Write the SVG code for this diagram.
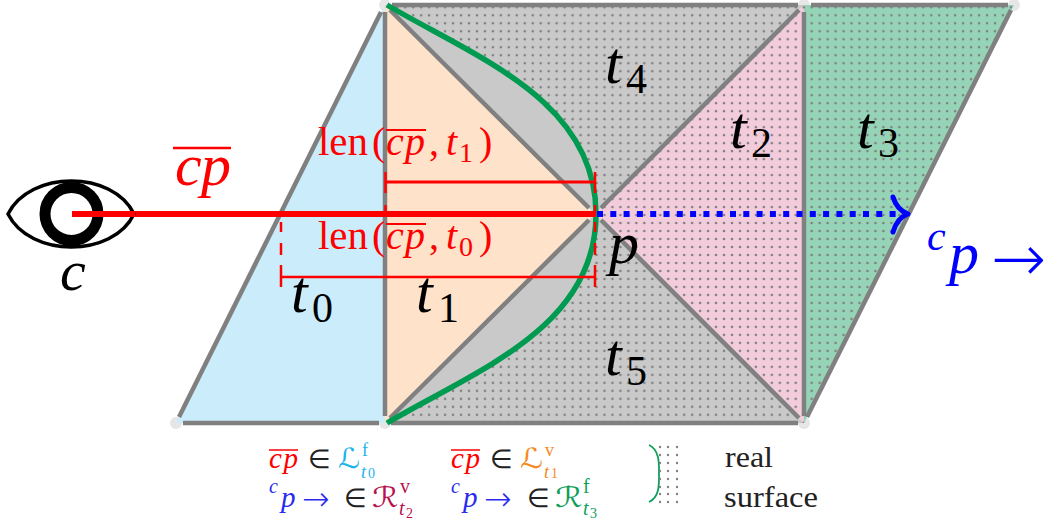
<svg xmlns="http://www.w3.org/2000/svg" width="1050" height="522" viewBox="0 0 1050 522">
<style>
.e{stroke:#808080;stroke-width:4.500;fill:none}
.r{stroke:#ff0000;fill:none}
text{font-family:"Liberation Serif",serif}
.m{font-style:italic}
.b{font-size:60px;font-style:italic;fill:#000}
.s{font-size:42px;fill:#000}
.l{font-size:40px;fill:#ff0000}
.ls{font-size:28px;fill:#ff0000}
.k{font-size:26px}
.kp{font-size:29px}
.ks{font-size:20px}
.kq{font-size:18px}
.kt{font-size:14px}
.ar{font-family:"DejaVu Sans",sans-serif;font-weight:200}
.sc{font-family:"DejaVu Sans",sans-serif;font-style:normal;font-size:28px}
.w{font-size:30px}
</style>
<defs>
<pattern id="dots" patternUnits="userSpaceOnUse" width="7.97" height="7.99" x="2.73" y="3.3">
<circle cx="4" cy="4" r="1.3" fill="#808080"/>
</pattern>
</defs>
<g id="vertices" fill="#e6e6e6">
<circle cx="385" cy="5" r="6"/><circle cx="804" cy="5" r="6"/><circle cx="1014" cy="5" r="6"/>
<circle cx="176" cy="423" r="6"/><circle cx="385" cy="423" r="6"/><circle cx="804" cy="423" r="6"/>
</g>
<g id="faces">
<polygon id="t0" points="176,423 385,5 385,423" fill="#cbecfa"/>
<polygon id="t1" points="385,5 595,214 385,423" fill="#fee3ca"/>
<polygon id="t4" points="385,5 804,5 595,214" fill="#c9c9c9"/>
<polygon id="t5" points="385,423 804,423 595,214" fill="#c9c9c9"/>
<polygon id="t2" points="804,5 804,423 595,214" fill="#f3ccdc"/>
<polygon id="t3" points="804,5 1014,5 804,423" fill="#96d4b8"/>
<path id="surface-dots" fill="url(#dots)" d="M387,5 C475,57 596,100 596,214 C596,328 475,371 387,423 L804,423 L1014,5 Z"/>
</g>
<g id="connectors">
<path class="e" d="M179,417 L381,12"/><path class="e" d="M385,12 V416"/><path class="e" d="M392,5 H798"/><path class="e" d="M811,5 H1008"/>
<path class="e" d="M183,423 H379"/><path class="e" d="M391,423 H798"/><path class="e" d="M804,12 V416"/><path class="e" d="M1011,10 L807,417"/>
<path class="e" d="M390,10 L589,208"/><path class="e" d="M390,418 L589,220"/><path class="e" d="M799,10 L601,208"/><path class="e" d="M799,418 L601,220"/>
<path d="M387,5 C475,57 596,100 596,214 C596,328 475,371 387,423" fill="none" stroke="#009a50" stroke-width="5.500"/>
<path class="r" stroke-width="3" d="M385,182 H595"/><path class="r" stroke-width="2.500" d="M281,277 H595"/>
<path class="r" stroke-width="2.500" d="M385.500,172 V193 M385.500,205 V214 M595,172 V193 M595,205 V214 M281,222 V232 M281,243 V255 M281,265 V287 M595,222 V232 M595,243 V255 M595,265 V287"/>
<path d="M135,214 H596" stroke="#ff0000" stroke-width="6" fill="none"/>
<path d="M597,214 H905" stroke="#0000ff" stroke-width="6" stroke-dasharray="6 7.300" fill="none"/>
<path d="M893,197 Q897,210 908,214 Q897,218 893,232" stroke="#0000ff" stroke-width="5" stroke-linecap="round" stroke-linejoin="round" fill="none"/>
</g>
<g id="eye">
<path d="M8,214 C30,170 113,170 134,214 C113,258 30,258 8,214 Z" fill="none" stroke="#000" stroke-width="3.500"/>
<circle cx="71.500" cy="214" r="26.500" fill="none" stroke="#000" stroke-width="11"/>
<path d="M72,214 H135" stroke="#ff0000" stroke-width="6" fill="none"/>
</g>
<g id="labels">
<text x="60" y="290" class="b" style="font-size:58px">c</text>
<text x="175" y="185" class="b" style="fill:#f00" textLength="56">cp</text>
<path d="M173,148 H231" stroke="#f00" stroke-width="2.500"/>
<text x="291" y="312" class="b">t</text><text x="312" y="322" class="s">0</text>
<text x="416" y="312" class="b">t</text><text x="438" y="322" class="s">1</text>
<text x="605" y="83" class="b">t</text><text x="626" y="93" class="s">4</text>
<text x="605" y="375" class="b">t</text><text x="626" y="385" class="s">5</text>
<text x="730" y="148" class="b">t</text><text x="751" y="157" class="s">2</text>
<text x="857" y="148" class="b">t</text><text x="878" y="157" class="s">3</text>
<text x="609" y="263" class="b">p</text>
<g id="len1"><text x="318" y="155" class="l" textLength="50" lengthAdjust="spacingAndGlyphs">len</text><text x="372" y="155" class="l">(</text><text x="386" y="155" class="l m" textLength="39">cp</text><text x="429" y="155" class="l">,</text><text x="446" y="155" class="l m">t</text><text x="459" y="162" class="ls">1</text><text x="479" y="155" class="l">)</text><path d="M386,130 H426" stroke="#f00" stroke-width="2"/></g>
<g id="len0"><text x="318" y="249" class="l" textLength="50" lengthAdjust="spacingAndGlyphs">len</text><text x="372" y="249" class="l">(</text><text x="386" y="249" class="l m" textLength="39">cp</text><text x="429" y="249" class="l">,</text><text x="446" y="249" class="l m">t</text><text x="459" y="256" class="ls">0</text><text x="479" y="249" class="l">)</text><path d="M386,224 H426" stroke="#f00" stroke-width="2"/></g>
<g id="cparrow" fill="#0000ff"><text x="927" y="250" class="m" style="font-size:42px">c</text><text x="949" y="273" class="m" style="font-size:60px">p</text><text x="991" y="281" class="ar" style="font-size:66px">→</text></g>
</g>
<g id="legend">
<text x="269" y="468" class="kp m" fill="#ff0000" textLength="29">cp</text><path d="M269,450 H298" stroke="#f00" stroke-width="1.500"/>
<text x="308" y="468" class="k" fill="#222">∈</text>
<text x="338" y="468" class="sc" fill="#1db4ea" textLength="22" lengthAdjust="spacingAndGlyphs">ℒ</text><text x="362" y="456" class="kq" fill="#1db4ea">f</text><text x="361" y="478" class="kq m" fill="#1db4ea">t</text><text x="368" y="478" class="kt" fill="#1db4ea">0</text>
<text x="451" y="468" class="kp m" fill="#ff0000" textLength="29">cp</text><path d="M451,450 H480" stroke="#f00" stroke-width="1.500"/>
<text x="490" y="468" class="k" fill="#222">∈</text>
<text x="520" y="468" class="sc" fill="#f58a1f" textLength="23" lengthAdjust="spacingAndGlyphs">ℒ</text><text x="545" y="456" class="kq" fill="#f58a1f">v</text><text x="544" y="478" class="kq m" fill="#f58a1f">t</text><text x="551" y="478" class="kt" fill="#f58a1f">1</text>
<text x="269" y="493" class="ks m" fill="#2a2af0">c</text><text x="281" y="507" class="kp m" fill="#2a2af0">p</text><text x="302" y="510" class="ar" style="font-size:33px" fill="#2a2af0">→</text>
<text x="344" y="507" class="k" fill="#222">∈</text>
<text x="372" y="507" class="sc" fill="#b8124f" textLength="26" lengthAdjust="spacingAndGlyphs">ℛ</text><text x="400" y="493" class="ks" fill="#b8124f">v</text><text x="399" y="515" class="ks m" fill="#b8124f">t</text><text x="406" y="518" class="kt" fill="#b8124f">2</text>
<text x="451" y="493" class="ks m" fill="#2a2af0">c</text><text x="463" y="507" class="kp m" fill="#2a2af0">p</text><text x="484" y="510" class="ar" style="font-size:33px" fill="#2a2af0">→</text>
<text x="527" y="507" class="k" fill="#222">∈</text>
<text x="555" y="507" class="sc" fill="#0ea05a" textLength="27" lengthAdjust="spacingAndGlyphs">ℛ</text><text x="583" y="493" class="ks" fill="#0ea05a">f</text><text x="583" y="515" class="ks m" fill="#0ea05a">t</text><text x="590" y="518" class="kt" fill="#0ea05a">3</text>
<path d="M649,445 C660,450 659,465 659,474 C659,483 660,497 649,502" fill="none" stroke="#0ea05a" stroke-width="1.800"/>
<g fill="#808080"><circle cx="660" cy="447" r="1.200"/><circle cx="668" cy="447" r="1.200"/><circle cx="677" cy="447" r="1.200"/><circle cx="660" cy="455" r="1.200"/><circle cx="668" cy="455" r="1.200"/><circle cx="677" cy="455" r="1.200"/><circle cx="660" cy="463" r="1.200"/><circle cx="668" cy="463" r="1.200"/><circle cx="677" cy="463" r="1.200"/><circle cx="660" cy="471" r="1.200"/><circle cx="668" cy="471" r="1.200"/><circle cx="677" cy="471" r="1.200"/><circle cx="660" cy="479" r="1.200"/><circle cx="668" cy="479" r="1.200"/><circle cx="677" cy="479" r="1.200"/><circle cx="660" cy="487" r="1.200"/><circle cx="668" cy="487" r="1.200"/><circle cx="677" cy="487" r="1.200"/><circle cx="660" cy="494" r="1.200"/><circle cx="668" cy="494" r="1.200"/><circle cx="677" cy="494" r="1.200"/><circle cx="660" cy="502" r="1.200"/><circle cx="668" cy="502" r="1.200"/><circle cx="677" cy="502" r="1.200"/></g>
<text x="725" y="467" class="w" fill="#222" textLength="48" lengthAdjust="spacingAndGlyphs">real</text>
<text x="724" y="507" class="w" fill="#222" textLength="94" lengthAdjust="spacingAndGlyphs">surface</text>
</g>
</svg>
